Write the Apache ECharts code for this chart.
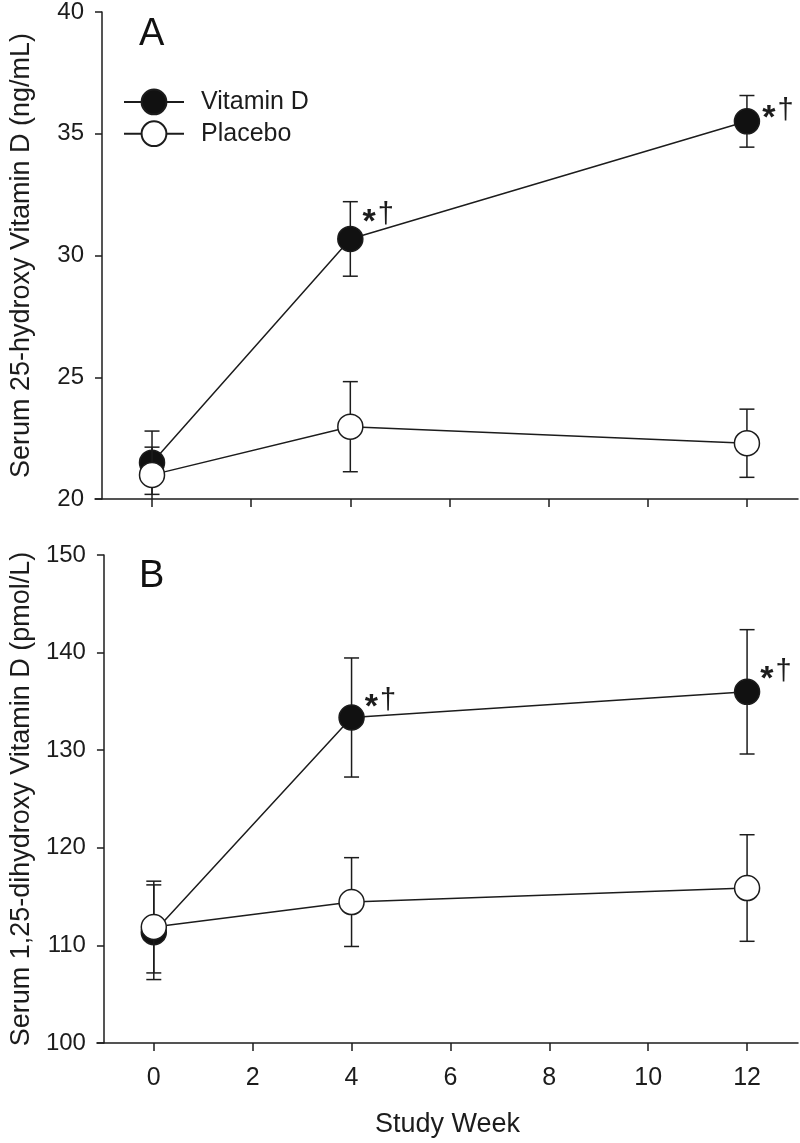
<!DOCTYPE html>
<html><head><meta charset="utf-8">
<script src="https://cdn.jsdelivr.net/npm/echarts@6/dist/echarts.min.js"></script>
<style>html,body{margin:0;padding:0;background:#fff}#c{width:800px;height:1143px}</style>
</head><body><div id="c"></div>
<script>
// ---- data ----
const weeks = [0, 4, 12];
const xTicks = [0, 2, 4, 6, 8, 10, 12];
const seriesNames = ['Vitamin D', 'Placebo'];
const panelLetters = ['A', 'B'];
const d25VitD = [21.49, 30.68, 35.51];
const d25VitDSE = [1.30, 1.53, 1.06];
const d25Plac = [20.99, 22.97, 22.29];
const d25PlacSE = [1.14, 1.85, 1.40];
const d125VitD = [111.35, 133.35, 135.98];
const d125VitDSE = [4.85, 6.10, 6.37];
const d125Plac = [111.88, 114.44, 115.88];
const d125PlacSE = [4.70, 4.55, 5.46];
const d25Sig = [false, true, true];
const d125Sig = [false, true, true];
const sigText = ['*', '\u2020'];
const yTitles = ['Serum 25-hydroxy Vitamin D (ng/mL)', 'Serum 1,25-dihydroxy Vitamin D (pmol/L)'];
const xTitle = 'Study Week';

// ---- styles ----
const FONT = '"Liberation Sans", Arial, Helvetica, sans-serif';
const INK = '#1c1c1c';
const annotOffsets = [[null, [-6, -19], [-3, -5]], [null, [-5, -12], [-5, -15]]];

function errSeries(xi, means, ses, z) {
  return {
    type: 'custom', xAxisIndex: xi, yAxisIndex: xi, z: z, silent: true, clip: true,
    data: weeks.map((w, i) => [w, means[i] - ses[i], means[i] + ses[i]]),
    renderItem: function (params, api) {
      const x = api.value(0);
      const lo = api.coord([x, api.value(1)]);
      const hi = api.coord([x, api.value(2)]);
      const hw = 7.5;
      const st = { stroke: INK, lineWidth: 1.5, fill: null };
      return { type: 'group', children: [
        { type: 'line', shape: { x1: lo[0], y1: lo[1], x2: hi[0], y2: hi[1] }, style: st },
        { type: 'line', shape: { x1: lo[0] - hw, y1: lo[1], x2: lo[0] + hw, y2: lo[1] }, style: st },
        { type: 'line', shape: { x1: hi[0] - hw, y1: hi[1], x2: hi[0] + hw, y2: hi[1] }, style: st }
      ]};
    }
  };
}

function lineSeries(name, xi, means, sig, filled, z) {
  return {
    type: 'line', name: name, xAxisIndex: xi, yAxisIndex: xi, z: z,
    data: weeks.map((w, i) => {
      const item = { value: [w, means[i]] };
      if (sig && sig[i]) {
        item.label = { show: true, offset: annotOffsets[xi][i] };
      }
      return item;
    }),
    symbol: 'circle', symbolSize: 25, showAllSymbol: true,
    lineStyle: { color: INK, width: 1.5 },
    itemStyle: { color: filled ? '#111' : '#fff', borderColor: INK, borderWidth: 1.5 },
    label: {
      show: false, position: 'right', distance: 5,
      formatter: '{a|' + sigText[0] + '}{b|' + sigText[1] + '}',
      rich: {
        a: { fontFamily: FONT, fontSize: 34, fontWeight: 'bold', color: INK, verticalAlign: 'bottom' },
        b: { fontFamily: FONT, fontSize: 29, color: INK, padding: [0, 0, 10, 2], verticalAlign: 'bottom' }
      }
    },
    emphasis: { disabled: true },
    animation: false
  };
}

function yAxis(gi, min, max, interval) {
  return {
    type: 'value', gridIndex: gi, min: min, max: max, interval: interval, offset: -7,
    name: yTitles[gi], nameLocation: 'middle', nameGap: 67,
    nameTextStyle: { fontFamily: FONT, fontSize: 27, color: INK },
    axisLine: { show: true, onZero: false, lineStyle: { color: INK, width: 1.5 } },
    axisTick: { show: true, inside: false, length: 7, lineStyle: { color: INK, width: 1.5 } },
    axisLabel: { fontFamily: FONT, fontSize: 24, color: INK, margin: 18 },
    splitLine: { show: false }
  };
}

function xAxis(gi, showLabels) {
  return {
    type: 'value', gridIndex: gi, min: -1.15, max: 13.03,
    name: showLabels ? xTitle : '', nameLocation: 'middle', nameGap: 68,
    nameTextStyle: { fontFamily: FONT, fontSize: 27, color: INK },
    axisLine: { show: true, onZero: false, lineStyle: { color: INK, width: 1.5 } },
    axisTick: { show: true, inside: false, length: 8, customValues: xTicks, lineStyle: { color: INK, width: 1.5 } },
    axisLabel: { show: showLabels, customValues: xTicks, fontFamily: FONT, fontSize: 25, color: INK, margin: 23 },
    splitLine: { show: false }
  };
}

const chart = echarts.init(document.getElementById('c'), null, { renderer: 'canvas' });
chart.setOption({
  animation: false,
  backgroundColor: '#fff',
  title: [
    { text: panelLetters[0], left: 139, top: 16, padding: 0, textStyle: { fontFamily: FONT, fontSize: 38, fontWeight: 'normal', color: '#111' } },
    { text: panelLetters[1], left: 139, top: 558, padding: 0, textStyle: { fontFamily: FONT, fontSize: 38, fontWeight: 'normal', color: '#111' } }
  ],
  legend: {
    data: seriesNames, orient: 'vertical', left: 123, top: 88.5, padding: 0,
    itemWidth: 60, itemHeight: 31, itemGap: 5,
    selectedMode: false,
    textStyle: { fontFamily: FONT, fontSize: 25, color: INK, padding: [0, 0, 0, 12] }
  },
  grid: [
    { left: 94, top: 11, width: 704, height: 488 },
    { left: 94, top: 555, width: 704, height: 488 }
  ],
  xAxis: [xAxis(0, false), xAxis(1, true)],
  yAxis: [yAxis(0, 20, 40, 5), yAxis(1, 100, 150, 10)],
  series: [
    errSeries(0, d25VitD, d25VitDSE, 1),
    lineSeries(seriesNames[0], 0, d25VitD, d25Sig, true, 2),
    errSeries(0, d25Plac, d25PlacSE, 3),
    lineSeries(seriesNames[1], 0, d25Plac, null, false, 4),
    errSeries(1, d125VitD, d125VitDSE, 1),
    lineSeries(seriesNames[0], 1, d125VitD, d125Sig, true, 2),
    errSeries(1, d125Plac, d125PlacSE, 3),
    lineSeries(seriesNames[1], 1, d125Plac, null, false, 4)
  ]
});
</script>
</body></html>
